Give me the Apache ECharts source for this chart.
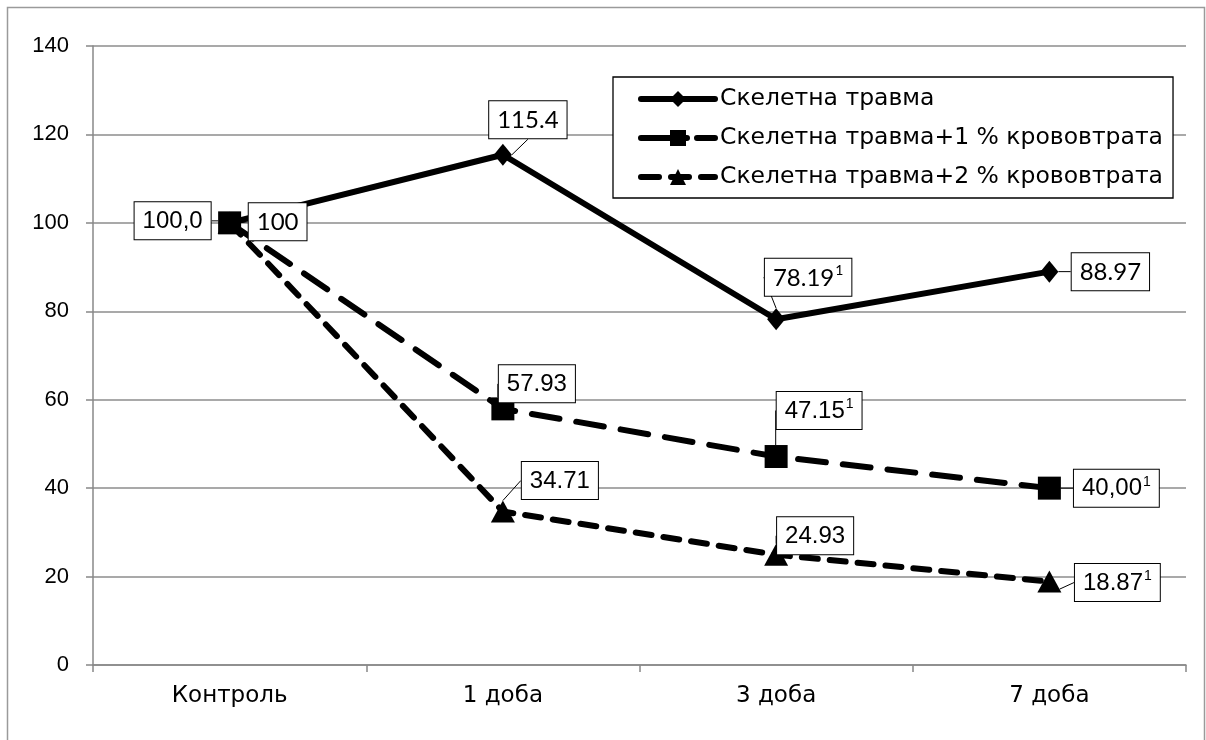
<!DOCTYPE html>
<html>
<head>
<meta charset="utf-8">
<script src="https://cdn.jsdelivr.net/npm/echarts@6/dist/echarts.min.js"></script>
<style>
  html, body { margin: 0; padding: 0; background: #fff; }
  #chart { width: 1206px; height: 740px; }
</style>
</head>
<body>
<div id="chart"></div>
<script>
// Categories (time points) and the three series
const categories = ['Контроль', '1 доба', '3 доба', '7 доба'];
const trauma = [100, 115.4, 78.19, 88.97];
const trauma1 = [100, 57.93, 47.15, 40.00];
const trauma2 = [100, 34.71, 24.93, 18.87];

// Label texts as printed next to each point (null = no label)
const traumaText = ['100', '115.4', '78.19', '88.97'];
const trauma1Text = ['100,0', '57.93', '47.15', '40,00'];
const trauma2Text = [null, '34.71', '24.93', '18.87'];

// Superscript footnote marks
const traumaSup = ['', '', '1', ''];
const trauma1Sup = ['', '', '1', '1'];
const trauma2Sup = ['', '', '', '1'];

const seriesNames = [
  'Скелетна травма',
  'Скелетна травма+1 % крововтрата',
  'Скелетна травма+2 % крововтрата'
];

const yTicks = { min: 0, max: 140, interval: 20 };

// Offsets of label boxes from their points (dx, dy in px)
const offsets = [
  [[48, -1], [25, -35], [32, -42], [61, 0]],
  [[-57, -2], [34, -25], [43, -46], [67, 0]],
  [[0, 0], [57, -31], [39, -19], [68, 1]]
];

const dash1 = [28, 17];
const dash2 = [16, 12];
const wideFont = 'DejaVu Sans, Verdana, sans-serif';
const arialFont = 'Liberation Sans, Arial, sans-serif';

function makeLabel(texts, sups, font) {
  return {
    show: true,
    position: 'inside',
    formatter: p => {
      const t = texts[p.dataIndex];
      if (t == null) return '';
      const s = sups[p.dataIndex];
      return s ? '{v|' + t + '}{s|' + s + '}' : '{v|' + t + '}';
    },
    backgroundColor: '#fff',
    borderColor: '#000',
    borderWidth: 1,
    padding: [5, 8, 4, 8],
    rich: {
      v: { fontFamily: font, fontSize: 24, color: '#000', lineHeight: 28 },
      s: { fontFamily: font, fontSize: 14, color: '#000', verticalAlign: 'top', lineHeight: 28, padding: [0, 0, 10, 1] }
    }
  };
}

function makeLayout(si, texts) {
  return p => {
    if (texts[p.dataIndex] == null) return {};
    const o = offsets[si][p.dataIndex];
    return { dx: o[0], dy: o[1] };
  };
}

const labelLine = { show: true, lineStyle: { color: '#000', width: 1 } };

const chart = echarts.init(document.getElementById('chart'));
chart.setOption({
  animation: false,
  backgroundColor: '#fff',
  graphic: [{
    type: 'rect',
    shape: { x: 7.5, y: 7.5, width: 1197, height: 760 },
    style: { fill: 'none', stroke: '#9a9a9a', lineWidth: 1.5 },
    silent: true, z: -1
  }],
  grid: { left: 93, top: 46, width: 1093, height: 619, containLabel: false },
  legend: {
    orient: 'vertical',
    left: 613,
    top: 77,
    padding: [10, 10, 9, 25],
    borderColor: '#000',
    borderWidth: 1.3,
    backgroundColor: '#fff',
    itemWidth: 74,
    itemHeight: 20,
    itemGap: 15,
    lineStyle: { width: 6, cap: 'round' },
    textStyle: { fontFamily: wideFont, fontSize: 23.5, color: '#000' },
    data: [
      { name: seriesNames[0], lineStyle: { width: 6, type: 'solid', cap: 'round' } },
      { name: seriesNames[1], lineStyle: { width: 6, type: [46, 10], cap: 'round' } },
      { name: seriesNames[2], lineStyle: { width: 6, type: [18, 12], cap: 'round' } }
    ]
  },
  xAxis: {
    type: 'category',
    data: categories,
    boundaryGap: true,
    axisLine: { lineStyle: { color: '#888', width: 1.5 } },
    axisTick: { show: true, length: 7, lineStyle: { color: '#888', width: 1.5 } },
    axisLabel: { fontFamily: wideFont, fontSize: 23, color: '#000', margin: 20 }
  },
  yAxis: {
    type: 'value',
    min: yTicks.min, max: yTicks.max, interval: yTicks.interval,
    axisLine: { show: true, lineStyle: { color: '#888', width: 1.5 } },
    axisTick: { show: true, length: 7, lineStyle: { color: '#888', width: 1.5 } },
    splitLine: { lineStyle: { color: '#8c8c8c', width: 1.5 } },
    axisLabel: { fontFamily: arialFont, fontSize: 22, color: '#000', margin: 24 }
  },
  series: [
    {
      name: seriesNames[0], type: 'line', data: trauma,
      symbol: 'diamond', symbolSize: [18, 22],
      itemStyle: { color: '#000' },
      lineStyle: { color: '#000', width: 6 },
      label: makeLabel(traumaText, traumaSup, 'Lato, Carlito, sans-serif'),
      labelLine: labelLine,
      labelLayout: makeLayout(0, traumaText),
      z: 3
    },
    {
      name: seriesNames[1], type: 'line', data: trauma1,
      symbol: 'rect', symbolSize: 23,
      itemStyle: { color: '#000' },
      lineStyle: { color: '#000', width: 6, type: dash1, cap: 'round' },
      label: makeLabel(trauma1Text, trauma1Sup, arialFont),
      labelLine: labelLine,
      labelLayout: makeLayout(1, trauma1Text),
      z: 2
    },
    {
      name: seriesNames[2], type: 'line', data: trauma2,
      symbol: 'triangle', symbolSize: [24, 22],
      itemStyle: { color: '#000' },
      lineStyle: { color: '#000', width: 6, type: dash2, cap: 'round' },
      label: makeLabel(trauma2Text, trauma2Sup, arialFont),
      labelLine: labelLine,
      labelLayout: makeLayout(2, trauma2Text),
      z: 2
    }
  ]
});
</script>
</body>
</html>
